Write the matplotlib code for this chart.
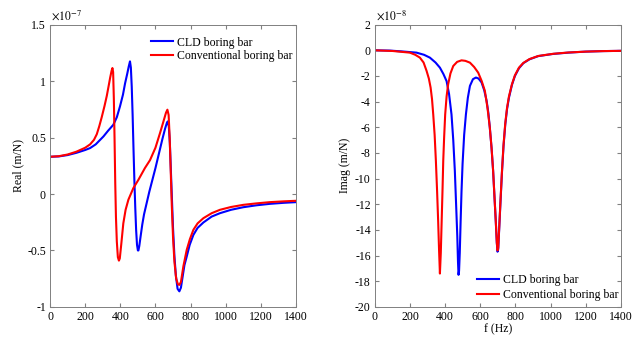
import matplotlib
matplotlib.use('Agg')
import matplotlib.pyplot as plt

plt.rcParams['font.family'] = 'Liberation Serif'
plt.rcParams['mathtext.fontset'] = 'stix'
plt.rcParams['axes.unicode_minus'] = False

# real part (x1e-7 m/N)
f_re_cld = [0, 50, 100, 150, 200, 228, 260, 304, 330, 360, 380, 398, 415, 427, 440, 448, 455,
            460, 465, 470, 475, 480, 485, 490, 495, 500, 503, 508, 515, 525, 535, 550, 565, 580,
            600, 620, 640, 655, 665, 670, 676, 682, 688, 694, 700, 708, 716, 726, 736, 745, 755,
            765, 778, 795, 816, 840, 873, 920, 967, 1030, 1100, 1175, 1252, 1330, 1400]
re_cld = [0.33, 0.333, 0.345, 0.365, 0.39, 0.407, 0.44, 0.51, 0.56, 0.613, 0.68, 0.776, 0.88, 0.98,
          1.07, 1.13, 1.175, 1.12, 0.95, 0.70, 0.40, 0.12, -0.12, -0.32, -0.45, -0.5, -0.5, -0.46,
          -0.38, -0.27, -0.18, -0.08, 0.02, 0.11, 0.23, 0.36, 0.49, 0.58, 0.63, 0.643, 0.6, 0.45,
          0.2, -0.05, -0.3, -0.55, -0.72, -0.84, -0.862, -0.83, -0.73, -0.63, -0.554, -0.45,
          -0.362, -0.3, -0.252, -0.2, -0.17, -0.14, -0.117, -0.1, -0.087, -0.078, -0.072]

f_re_conv = [0, 50, 100, 150, 200, 228, 250, 266, 280, 294, 310, 323, 335, 342, 350, 355, 359, 363,
             367, 371, 375, 380, 386, 392, 397, 405, 417, 430, 446, 474, 503, 540, 569, 600, 626,
             645, 660, 668, 675, 681, 687, 693, 700, 708, 718, 728, 736, 745, 750, 759, 778, 796,
             816, 840, 873, 920, 967, 1030, 1100, 1175, 1252, 1330, 1400]
re_conv = [0.33, 0.335, 0.35, 0.375, 0.41, 0.44, 0.48, 0.53, 0.60, 0.68, 0.78, 0.87, 0.97, 1.03,
           1.09, 1.116, 1.08, 0.85, 0.5, 0.1, -0.2, -0.42, -0.56, -0.59, -0.57, -0.45, -0.26, -0.14,
           -0.05, 0.052, 0.126, 0.23, 0.30, 0.41, 0.54, 0.64, 0.72, 0.747, 0.70, 0.5, 0.2, -0.1,
           -0.38, -0.6, -0.75, -0.8, -0.805, -0.78, -0.73, -0.64, -0.495, -0.4, -0.317, -0.26,
           -0.214, -0.17, -0.14, -0.115, -0.096, -0.083, -0.072, -0.065, -0.06]

# imaginary part (x1e-8 m/N)
f_im_cld = [0, 85, 150, 237, 280, 313, 345, 370, 390, 408, 422, 436, 446, 455, 463, 469, 473, 476,
            479, 483, 488, 493, 499, 508, 518, 529, 541, 558, 575, 590, 607, 622, 636, 646, 654,
            664, 673, 681, 688, 694, 698, 702, 708, 715, 723, 732, 742, 752, 763, 780, 797, 820,
            845, 880, 930, 1015, 1100, 1200, 1300, 1400]
im_cld = [0, -0.02, -0.08, -0.18, -0.35, -0.57, -0.95, -1.35, -1.85, -2.4, -3.4, -5.0, -7.0, -9.4,
          -12.3, -14.5, -16.5, -17.5, -17.2, -15.8, -13.3, -11.0, -8.85, -6.6, -5.0, -3.7, -2.77,
          -2.25, -2.12, -2.2, -2.5, -3.1, -3.94, -4.9, -6.0, -7.6, -9.4, -11.5, -13.3, -15.0, -15.7,
          -15.5, -13.8, -11.8, -9.6, -7.5, -5.8, -4.6, -3.7, -2.7, -2.0, -1.4, -1.0, -0.7, -0.45,
          -0.28, -0.18, -0.1, -0.06, -0.04]

f_im_conv = [0, 100, 199, 230, 256, 277, 294, 307, 317, 325, 332, 340, 347, 354, 360, 365, 370, 375,
             380, 385, 389, 394, 400, 408, 417, 430, 446, 468, 493, 515, 541, 565, 588, 608, 626,
             641, 654, 664, 673, 681, 688, 694, 698, 702, 708, 715, 723, 732, 742, 752, 763, 780,
             797, 820, 845, 880, 930, 1015, 1100, 1200, 1300, 1400]
im_conv = [0, -0.05, -0.18, -0.35, -0.57, -0.95, -1.6, -2.2, -2.9, -3.8, -5.0, -6.6, -8.6, -11.0,
           -13.3, -15.5, -17.4, -15.8, -13.3, -10.8, -8.6, -6.8, -5.0, -3.6, -2.64, -1.8, -1.22,
           -0.9, -0.78, -0.82, -0.96, -1.3, -1.74, -2.4, -3.16, -4.5, -6.0, -7.6, -9.4, -11.5,
           -13.3, -15.0, -15.6, -15.4, -13.7, -11.7, -9.5, -7.4, -5.7, -4.5, -3.6, -2.65, -1.95,
           -1.35, -0.98, -0.68, -0.44, -0.27, -0.17, -0.1, -0.06, -0.04]

labels = ['CLD boring bar', 'Conventional boring bar']
xticks = [0, 200, 400, 600, 800, 1000, 1200, 1400]

fig = plt.figure(figsize=(6.42, 3.38), dpi=100)
ax1 = fig.add_axes([0.078, 0.092, 0.383, 0.835])
ax2 = fig.add_axes([0.584, 0.092, 0.383, 0.835])

ax1.plot(f_re_cld, re_cld, color='#0000ff', lw=1.5, label=labels[0])
ax1.plot(f_re_conv, re_conv, color='#ff0000', lw=1.5, label=labels[1])
ax1.set_xlim(0, 1400)
ax1.set_ylim(-1, 1.5)
ax1.set_yticks([-1, -0.5, 0, 0.5, 1, 1.5])
ax1.set_yticklabels(['-1', '-0.5', '0', '0.5', '1', '1.5'])
ax1.set_ylabel('Real (m/N)', fontsize=8.5, labelpad=2)
ax1.text(0.005, 1.008, r'$\times10^{-7}$', transform=ax1.transAxes, fontsize=8.5, va='bottom', ha='left')
ax1.legend(loc='upper right', frameon=False, fontsize=8.5, handlelength=1.9,
           handletextpad=0.3, labelspacing=0.15, borderaxespad=0.25,
           bbox_to_anchor=(1.016, 0.985))

ax2.plot(f_im_cld, im_cld, color='#0000ff', lw=1.5, label=labels[0])
ax2.plot(f_im_conv, im_conv, color='#ff0000', lw=1.5, label=labels[1])
ax2.set_xlim(0, 1400)
ax2.set_ylim(-20, 2)
ax2.set_yticks(range(-20, 3, 2))
ax2.set_ylabel('Imag (m/N)', fontsize=8.5, labelpad=3)
ax2.set_xlabel('f (Hz)', fontsize=8.5, labelpad=0)
ax2.text(0.005, 1.008, r'$\times10^{-8}$', transform=ax2.transAxes, fontsize=8.5, va='bottom', ha='left')
ax2.legend(loc='lower right', frameon=False, fontsize=8.5, handlelength=1.9,
           handletextpad=0.3, labelspacing=0.3, borderaxespad=0.25,
           bbox_to_anchor=(1.02, -0.008))

for ax in (ax1, ax2):
    ax.set_xticks(xticks)
    ax.tick_params(direction='in', top=True, right=True, labelsize=8.5, length=3,
                   color='#808080', pad=3)
    for s in ax.spines.values():
        s.set_color('#808080')
        s.set_linewidth(0.7)

fig.savefig('out.png', dpi=100)
